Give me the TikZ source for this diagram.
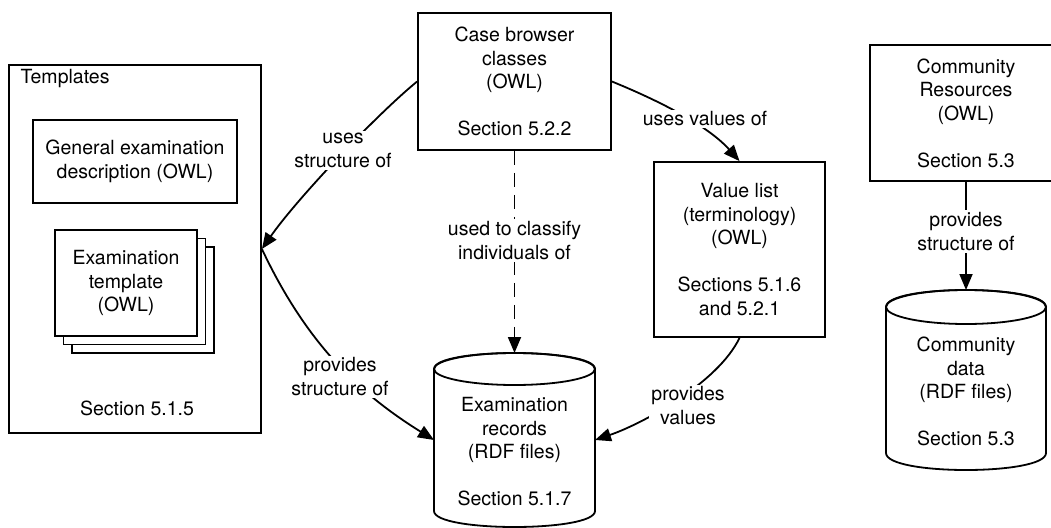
\documentclass[tikz,border=0pt]{standalone}
\usepackage{fontspec}
\setmainfont{TeX Gyre Heros}
\usetikzlibrary{arrows.meta}
\begin{document}
\begin{tikzpicture}[x=1pt,y=-1pt,
  base/.style={font=\fontsize{19.5pt}{23.5pt}\selectfont, align=center},
  box/.style={base, draw, line width=1.8pt, fill=white, inner sep=0pt},
  lbl/.style={base, fill=white, inner sep=2pt},
  conn/.style={line width=1.8pt},
  arr/.style={conn, -{Triangle[length=16pt,width=13pt]}},
  shapeonly/.style={inner sep=0pt, outer sep=0pt}
]
\useasboundingbox (0,0) rectangle (1051,527);

% Templates group
\node[box, minimum width=252pt, minimum height=368pt] (tp) at (135,249) {};
\node[base, anchor=west] (tpl) at (17,79) {Templates};
\node[box, minimum width=204pt, minimum height=83pt] (ge) at (135,161.5) {General examination\\description (OWL)};
\node[box, minimum width=142pt, minimum height=106pt] (ex3) at (143,300) {};
\node[box, minimum width=142pt, minimum height=106pt] (ex2) at (134.5,291.5) {};
\node[box, minimum width=142pt, minimum height=106pt] (ex) at (126,283) {Examination\\template\\(OWL)};
\node[base] (s515) at (137,408) {Section 5.1.5};

% Case browser
\node[box, minimum width=193pt, minimum height=137pt] (cb) at (514.5,81.5) {Case browser\\classes\\(OWL)\\[23.5pt]Section 5.2.2};

% Value list
\node[box, minimum width=171pt, minimum height=175pt] (vl) at (739.5,249.5) {Value list\\(terminology)\\(OWL)\\[23.5pt]Sections 5.1.6\\and 5.2.1};

% Community resources
\node[box, minimum width=192pt, minimum height=136pt] (cr) at (966,113) {Community\\Resources\\(OWL)\\[23.5pt]Section 5.3};

% Examination records cylinder
\node[shapeonly, minimum width=161pt, minimum height=174pt] (er) at (514.5,440) {};
\draw[conn, fill=white] ([yshift=-16pt]er.north west) -- ([yshift=16pt]er.south west)
  .. controls +(0,-21.33pt) and +(0,-21.33pt) .. ([yshift=16pt]er.south east)
  -- ([yshift=-16pt]er.north east)
  .. controls +(0,21.33pt) and +(0,21.33pt) .. ([yshift=-16pt]er.north west) -- cycle;
\draw[conn] ([yshift=-16pt]er.north) ellipse [x radius=80.5pt, y radius=16pt];
\node[base] (ert) at (514.5,452) {Examination\\records\\(RDF files)\\[23.5pt]Section 5.1.7};

% Community data cylinder
\node[shapeonly, minimum width=160pt, minimum height=180pt] (cd) at (966,380) {};
\draw[conn, fill=white] ([yshift=-17pt]cd.north west) -- ([yshift=17pt]cd.south west)
  .. controls +(0,-22.67pt) and +(0,-22.67pt) .. ([yshift=17pt]cd.south east)
  -- ([yshift=-17pt]cd.north east)
  .. controls +(0,22.67pt) and +(0,22.67pt) .. ([yshift=-17pt]cd.north west) -- cycle;
\draw[conn] ([yshift=-17pt]cd.north) ellipse [x radius=80pt, y radius=17pt];
\node[base] (cdt) at (966,391.5) {Community\\data\\(RDF files)\\[23.5pt]Section 5.3};

% Connectors
\draw[arr] (cb.west) .. controls (375,116) and (296,200) .. (tp.east);
\draw[arr] (tp.east) .. controls (309,349) and (365,397) .. (er.west);
\draw[arr, dash pattern=on 14pt off 8pt] (cb.south) -- (er.north);
\draw[arr] (cb.east) .. controls (667,104) and (710,128) .. (vl.north);
\draw[arr] (vl.south) .. controls (718,383) and (642,424) .. (er.east);
\draw[arr] (cr.south) -- (cd.north);

% Labels
\node[lbl] (l1) at (343,150.5) {uses\\structure of};
\node[lbl] (l2) at (340,376.5) {provides\\structure of};
\node[lbl] (l3) at (514.5,240.5) {used to classify\\individuals of};
\node[lbl] (l4) at (705,119) {uses values of};
\node[lbl] (l5) at (688,405.5) {provides\\values};
\node[lbl] (l6) at (966,231.5) {provides\\structure of};
\end{tikzpicture}
\end{document}
